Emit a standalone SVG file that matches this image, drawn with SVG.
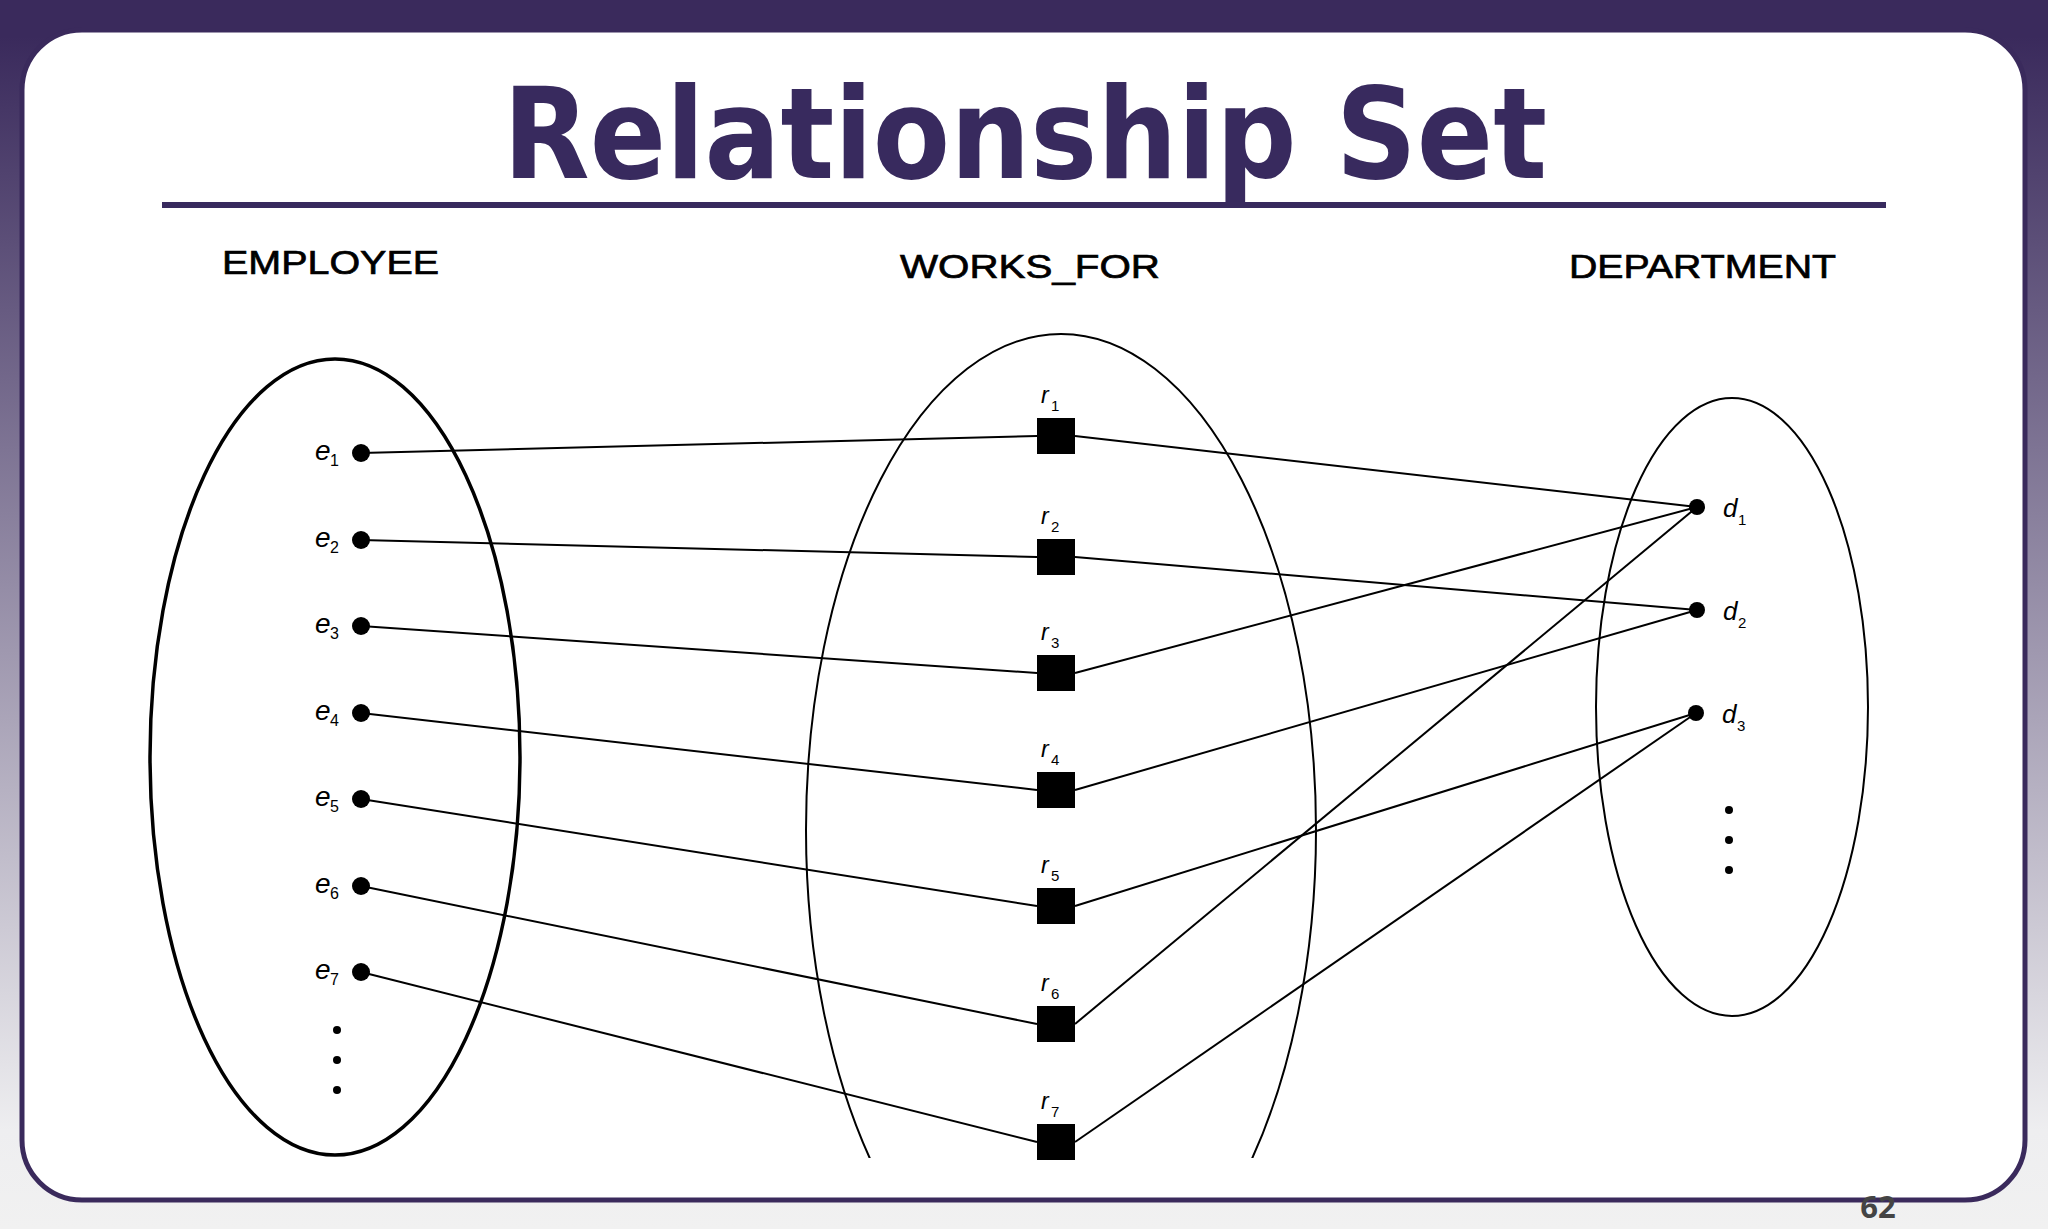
<svg xmlns="http://www.w3.org/2000/svg" width="2048" height="1229" viewBox="0 0 2048 1229">
  <defs>
    <linearGradient id="bg" x1="0" y1="0" x2="0" y2="1">
      <stop offset="0" stop-color="#3a2a5c"/>
      <stop offset="0.03" stop-color="#3a2a5c"/>
      <stop offset="0.92" stop-color="#eeeef0"/>
      <stop offset="1" stop-color="#f1f1f1"/>
    </linearGradient>
    <clipPath id="wfclip">
      <rect x="0" y="0" width="2048" height="1158"/>
    </clipPath>
  </defs>
  <style>
    .title { font-family: "DejaVu Sans Condensed", "DejaVu Sans", sans-serif; font-stretch: condensed; font-weight: bold; font-size: 126px; fill: #382a5e; }
    .head { font-family: "Liberation Sans", Arial, sans-serif; font-size: 34px; fill: #000; stroke: #000; stroke-width: 0.7; }
    .lbl { font-family: "Liberation Sans", Arial, sans-serif; font-style: italic; fill: #000; }
    .sub { font-family: "Liberation Sans", Arial, sans-serif; fill: #000; }
    .set { fill: none; stroke: #000; }
    .conn line { stroke: #000; stroke-width: 2; }
    .dot { fill: #000; }
    .sq { fill: #000; }
    .pnum { font-family: "Open Sans", "DejaVu Sans", sans-serif; font-weight: bold; font-size: 31px; fill: #444; }
  </style>

  <rect x="0" y="0" width="2048" height="1229" fill="url(#bg)"/>
  <rect x="22" y="30" width="2003" height="1170" rx="60" ry="60" fill="#fff" stroke="#3a2a5c" stroke-width="5"/>

  <text class="title" x="1025" y="178" text-anchor="middle" textLength="1044" lengthAdjust="spacingAndGlyphs">Relationship Set</text>
  <rect x="162" y="202" width="1724" height="6" fill="#382a5e"/>

  <text class="head" x="222" y="274" textLength="217" lengthAdjust="spacingAndGlyphs">EMPLOYEE</text>
  <text class="head" x="900" y="278" textLength="260" lengthAdjust="spacingAndGlyphs">WORKS_FOR</text>
  <text class="head" x="1569" y="278" textLength="267" lengthAdjust="spacingAndGlyphs">DEPARTMENT</text>

  <!-- entity / relationship set ellipses -->
  <g id="employee-set">
    <ellipse class="set" cx="335" cy="757" rx="185" ry="398" stroke-width="3.5"/>
  </g>
  <g id="works-for-set">
    <ellipse class="set" cx="1061" cy="830" rx="255" ry="496" stroke-width="2" clip-path="url(#wfclip)"/>
  </g>
  <g id="department-set">
    <ellipse class="set" cx="1732" cy="707" rx="136" ry="309" stroke-width="2"/>
  </g>

  <!-- connectors -->
  <g id="connectors" class="conn">
    <line x1="361" y1="453" x2="1037" y2="436"/>
    <line x1="361" y1="540" x2="1037" y2="557"/>
    <line x1="361" y1="626" x2="1037" y2="673"/>
    <line x1="361" y1="713" x2="1037" y2="790"/>
    <line x1="361" y1="799" x2="1037" y2="906"/>
    <line x1="361" y1="886" x2="1037" y2="1024"/>
    <line x1="361" y1="972" x2="1037" y2="1142"/>
    <line x1="1075" y1="436" x2="1697" y2="507"/>
    <line x1="1075" y1="557" x2="1697" y2="610"/>
    <line x1="1075" y1="673" x2="1697" y2="507"/>
    <line x1="1075" y1="790" x2="1697" y2="610"/>
    <line x1="1075" y1="906" x2="1696" y2="713"/>
    <line x1="1075" y1="1024" x2="1697" y2="507"/>
    <line x1="1075" y1="1142" x2="1696" y2="713"/>
  </g>

  <!-- employee entities -->
  <g id="e1"><circle class="dot" cx="361" cy="453" r="9"/><text class="lbl" x="315" y="460" font-size="28">e</text><text class="sub" x="330" y="466" font-size="16">1</text></g>
  <g id="e2"><circle class="dot" cx="361" cy="540" r="9"/><text class="lbl" x="315" y="547" font-size="28">e</text><text class="sub" x="330" y="553" font-size="16">2</text></g>
  <g id="e3"><circle class="dot" cx="361" cy="626" r="9"/><text class="lbl" x="315" y="633" font-size="28">e</text><text class="sub" x="330" y="639" font-size="16">3</text></g>
  <g id="e4"><circle class="dot" cx="361" cy="713" r="9"/><text class="lbl" x="315" y="720" font-size="28">e</text><text class="sub" x="330" y="726" font-size="16">4</text></g>
  <g id="e5"><circle class="dot" cx="361" cy="799" r="9"/><text class="lbl" x="315" y="806" font-size="28">e</text><text class="sub" x="330" y="812" font-size="16">5</text></g>
  <g id="e6"><circle class="dot" cx="361" cy="886" r="9"/><text class="lbl" x="315" y="893" font-size="28">e</text><text class="sub" x="330" y="899" font-size="16">6</text></g>
  <g id="e7"><circle class="dot" cx="361" cy="972" r="9"/><text class="lbl" x="315" y="979" font-size="28">e</text><text class="sub" x="330" y="985" font-size="16">7</text></g>
  <g id="e-more">
    <circle class="dot" cx="337" cy="1030" r="4"/>
    <circle class="dot" cx="337" cy="1060" r="4"/>
    <circle class="dot" cx="337" cy="1090" r="4"/>
  </g>

  <!-- relationship instances -->
  <g id="r1"><rect class="sq" x="1037" y="418" width="38" height="36"/><text class="lbl" x="1041" y="403" font-size="23">r</text><text class="sub" x="1051" y="411" font-size="15">1</text></g>
  <g id="r2"><rect class="sq" x="1037" y="539" width="38" height="36"/><text class="lbl" x="1041" y="524" font-size="23">r</text><text class="sub" x="1051" y="532" font-size="15">2</text></g>
  <g id="r3"><rect class="sq" x="1037" y="655" width="38" height="36"/><text class="lbl" x="1041" y="640" font-size="23">r</text><text class="sub" x="1051" y="648" font-size="15">3</text></g>
  <g id="r4"><rect class="sq" x="1037" y="772" width="38" height="36"/><text class="lbl" x="1041" y="757" font-size="23">r</text><text class="sub" x="1051" y="765" font-size="15">4</text></g>
  <g id="r5"><rect class="sq" x="1037" y="888" width="38" height="36"/><text class="lbl" x="1041" y="873" font-size="23">r</text><text class="sub" x="1051" y="881" font-size="15">5</text></g>
  <g id="r6"><rect class="sq" x="1037" y="1006" width="38" height="36"/><text class="lbl" x="1041" y="991" font-size="23">r</text><text class="sub" x="1051" y="999" font-size="15">6</text></g>
  <g id="r7"><rect class="sq" x="1037" y="1124" width="38" height="36"/><text class="lbl" x="1041" y="1109" font-size="23">r</text><text class="sub" x="1051" y="1117" font-size="15">7</text></g>

  <!-- department entities -->
  <g id="d1"><circle class="dot" cx="1697" cy="507" r="8"/><text class="lbl" x="1723" y="517" font-size="26">d</text><text class="sub" x="1738" y="525" font-size="15">1</text></g>
  <g id="d2"><circle class="dot" cx="1697" cy="610" r="8"/><text class="lbl" x="1723" y="620" font-size="26">d</text><text class="sub" x="1738" y="628" font-size="15">2</text></g>
  <g id="d3"><circle class="dot" cx="1696" cy="713" r="8"/><text class="lbl" x="1722" y="723" font-size="26">d</text><text class="sub" x="1737" y="731" font-size="15">3</text></g>
  <g id="d-more">
    <circle class="dot" cx="1729" cy="810" r="4"/>
    <circle class="dot" cx="1729" cy="840" r="4"/>
    <circle class="dot" cx="1729" cy="870" r="4"/>
  </g>

  <text class="pnum" x="1878" y="1218" text-anchor="middle">62</text>
</svg>
